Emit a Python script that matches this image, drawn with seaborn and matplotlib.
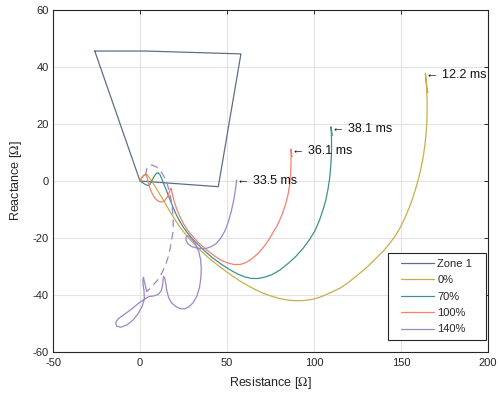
import matplotlib
matplotlib.use("Agg")
import matplotlib.pyplot as plt
from matplotlib.lines import Line2D
from matplotlib.legend_handler import HandlerLine2D
import seaborn as sns
import pandas as pd

# ---------------- data ----------------
zone_r = [-26, 3, 58, 45, 0, -26]
zone_x = [45.6, 45.6, 44.6, -2, 0, 45.6]

r_0 = [0, 1, 2, 3.5, 5, 7, 9, 11, 13, 15, 17, 19, 21, 23, 25, 27.5, 30, 32.5, 35, 38, 41,
       44, 47, 50, 54, 58, 62, 66, 70, 75, 80, 85, 90, 95, 100, 105, 110, 115, 120, 125,
       130, 135, 140, 144, 147, 150, 152.5, 154.7, 156.6, 158.3, 159.8, 161.1, 162.2, 163.1,
       163.8, 164.4, 164.8, 165, 165, 164.8, 164.4, 164, 164.5, 165, 165.5]
x_0 = [0, 1.2, 2, 2.5, 1.5, -0.3, -2.2, -4.2, -6.3, -8.4, -10.5, -12.5, -14.4, -16.2, -17.8,
       -19.7, -21.4, -23, -24.5, -26.2, -27.8, -29.2, -30.6, -32, -33.7, -35.3, -36.7, -38,
       -39.2, -40.3, -41.2, -41.8, -42, -41.9, -41.4, -40.4, -39, -37.6, -35.5, -33, -30.5,
       -27.5, -24.5, -21.5, -19, -15.8, -12.6, -9.4, -6.2, -3, 0.2, 3.4, 6.6, 9.8, 13, 16.5,
       20, 24, 28, 31.5, 35, 37.8, 35, 32.5, 31]

r_70 = [0, 1.5, 3, 4.5, 5.7, 6.8, 8, 9.3, 10.5, 11.5, 12.5, 13.5, 15, 17, 19, 21, 23, 25,
        27.5, 30, 32.5, 35, 38, 41, 44, 47, 50, 53, 56, 60, 64, 68, 72, 76, 80.5, 85, 89.5,
        93.9, 97.5, 100.5, 103, 105, 106.8, 108, 109, 109.6, 110, 110.1, 110, 109.8, 110.1,
        110.5]
x_70 = [0, -0.6, -1.2, -1.6, -1.2, 0, 1.5, 2.6, 2.9, 2.2, 0.8, -0.8, -3, -6.2, -9.2, -12,
        -14.3, -16.3, -18.4, -20.2, -21.8, -23.3, -25, -26.6, -28, -29.3, -30.5, -31.6,
        -32.6, -33.6, -34.2, -34.2, -33.7, -32.8, -31.2, -29, -26.5, -23.5, -20.5, -17.5,
        -14, -10.5, -6.7, -3, 1, 5, 9, 13, 16.5, 19, 17.5, 16]

r_100 = [0, 1, 2, 3, 3.8, 4.5, 5.3, 6.5, 8, 9.5, 11, 12.5, 14, 15.3, 16.3, 17.1, 17.6, 17.8,
         18.2, 18.8, 19.8, 21.2, 23, 25, 27.5, 30.5, 33.5, 36.5, 40, 43.5, 47, 50.5, 54,
         57.5, 61, 64.5, 68, 71.5, 74.5, 77, 79, 81.5, 83.5, 85, 86, 86.5, 86.8, 86.8, 87.1,
         87.4]
x_100 = [0, 1, 1.8, 2.3, 1.8, 0.2, -1.8, -3.8, -5.5, -6.6, -7.2, -7.4, -7, -6, -4.8, -3.5,
         -2.6, -2.5, -3.5, -5.2, -7.5, -10, -12.6, -15, -17.4, -19.6, -21.6, -23.2, -25,
         -26.6, -27.9, -28.8, -29.3, -29.3, -28.6, -27.2, -25.3, -22.8, -20.2, -17.5, -15.5,
         -12, -8.5, -5, -1.5, 2, 6, 11.2, 9.5, 8.5]

r_140 = [3.8, 3.2, 2.4, 2, 1.7, 1.8, 2.3, 2.5, 1.2, -1, -4, -7.5, -11, -13.3, -14, -12.5,
         -9, -5, -1, 2.5, 5, 8, 10.5, 12.2, 13, 13.3, 13.6, 14.2, 14.8,
         15.4, 16.5, 18.2, 20.5, 23, 25.5, 28, 30.5, 32.7, 34.2, 35, 35.2, 34.8, 33.8, 32.2,
         30.3, 28.5, 27.2, 26.4, 26.5, 27.8, 30, 33.5, 36, 38.3, 41, 44, 46.5, 48.8, 50.7,
         52.3, 53.6, 54.6, 55.2, 55.5]
x_140 = [-38.8, -37, -35, -33.8, -34.5, -36.5, -38.5, -41.5, -44, -46.5, -48.8, -50.5, -51.3,
         -51, -49.8, -48.3, -46.8, -45, -43, -41.5, -40.6, -40.3, -39.8,
         -38.5, -36.5, -34.3, -33.5, -34, -36, -38.5, -41, -42.8, -44, -44.8, -44.9, -44.2,
         -42.7, -40.4, -37.3, -34, -30.5, -27.5, -24.8, -22.6, -20.8, -19.6, -19.2, -19.8,
         -21, -22.2, -23.1, -23.6, -23.8, -23.6, -23, -21.9, -20, -17.5, -14.5, -11, -7.5,
         -4, -1.5, 0.3]

r_140d = [3.2, 4, 5.2, 6.9, 9.2, 11.5, 13.6, 15.5, 17, 18.2, 18.9, 19.1, 18.9, 18.2, 17.3,
          16.3, 14.6, 12.5, 10.2, 7.6, 5.6, 3.8]
x_140d = [2, 4.5, 5.4, 5.6, 5, 3.9, 1.8, -0.7, -4, -7.7, -11.5, -15.4, -18, -20.7, -23.6,
          -26.5, -29.5, -32.4, -34.7, -36.5, -37.8, -38.8]

labels = ["Zone 1", "0%", "70%", "100%", "140%"]
colors = ["#5d6f87", "#c8ae4a", "#3d918d", "#f97e6e", "#9c86c8"]

ann_r = [164.4, 110.2, 87.2, 55.5]
ann_x = [37.2, 18.2, 10.6, 0.1]
ann_t = ["12.2 ms", "38.1 ms", "36.1 ms", "33.5 ms"]

xticks = [-50, 0, 50, 100, 150, 200]
yticks = [-60, -40, -20, 0, 20, 40, 60]

# ---------------- style ----------------
sns.set_theme(style="white")
plt.rcParams["font.family"] = ["Liberation Sans", "DejaVu Sans"]
plt.rcParams["mathtext.fontset"] = "stix"
plt.rcParams["axes.unicode_minus"] = False

fig = plt.figure(figsize=(4.98, 4.01), dpi=100)
ax = fig.add_axes([53 / 498, 1 - 352 / 401, 435 / 498, 342 / 401])

series = [(zone_r, zone_x), (r_0, x_0), (r_70, x_70), (r_100, x_100), (r_140, x_140)]
for (rr, xx), lab, c in zip(series, labels, colors):
    df = pd.DataFrame({"R": rr, "X": xx})
    sns.lineplot(data=df, x="R", y="X", sort=False, estimator=None, ax=ax,
                 color=c, lw=0.9, label=lab)

dfd = pd.DataFrame({"R": r_140d, "X": x_140d})
sns.lineplot(data=dfd, x="R", y="X", sort=False, estimator=None, ax=ax,
             color=colors[4], lw=0.9, linestyle=(0, (6, 4)), legend=False)

for r, x, t in zip(ann_r, ann_x, ann_t):
    ax.text(r, x, "\u2190 " + t, fontsize=9, ha="left", va="center",
            family=["Liberation Sans", "DejaVu Sans"], color="#111111")

ax.set_xlim(-50, 200)
ax.set_ylim(-60, 60)
ax.set_xticks(xticks)
ax.set_yticks(yticks)
ax.set_xticklabels([str(v) for v in xticks])
ax.set_yticklabels([str(v) for v in yticks])
ax.grid(True, color="#e3e3e3", lw=0.8)
ax.set_axisbelow(True)
for s in ax.spines.values():
    s.set_color("#262626")
    s.set_linewidth(0.8)
    s.set_visible(True)
ax.tick_params(direction="in", length=3, width=0.7, color="#262626",
               labelsize=8, top=True, right=True, labelcolor="#262626")
ax.tick_params(axis="x", pad=4.5)
ax.tick_params(axis="y", pad=3)
ax.set_xlabel("Resistance [$\\Omega$]", fontsize=9, color="#262626")
ax.set_ylabel("Reactance [$\\Omega$]", fontsize=9, color="#262626")
ax.xaxis.set_label_coords(0.5, -0.068)
ax.yaxis.set_label_coords(-0.067, 0.5)

leg = ax.legend(loc="lower left",
                bbox_to_anchor=((388 - 53) / 435, (352 - 340) / 342, 98 / 435, 0.3),
                mode="expand", borderaxespad=0,
                fontsize=8, frameon=True, fancybox=False, framealpha=1,
                edgecolor="#262626", handlelength=3.6, handletextpad=0.35,
                labelspacing=0.58, borderpad=0.5,
                handler_map={Line2D: HandlerLine2D(xpad=0.7)})
leg.get_frame().set_linewidth(0.8)

fig.savefig("out.png", dpi=100)
